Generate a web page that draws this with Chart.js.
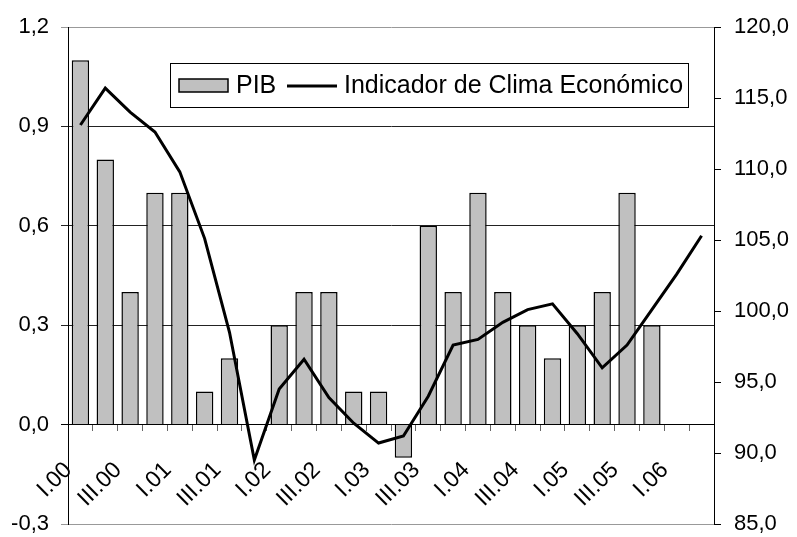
<!DOCTYPE html>
<html>
<head>
<meta charset="utf-8">
<script src="https://cdn.jsdelivr.net/npm/chart.js@4/dist/chart.umd.min.js"></script>
<style>
  body { margin: 0; background: #fff; }
  canvas { display: block; }
</style>
</head>
<body>
<canvas id="chart" width="797" height="537"></canvas>
<script>
const quarters = [
  'I.00', 'II.00', 'III.00', 'IV.00',
  'I.01', 'II.01', 'III.01', 'IV.01',
  'I.02', 'II.02', 'III.02', 'IV.02',
  'I.03', 'II.03', 'III.03', 'IV.03',
  'I.04', 'II.04', 'III.04', 'IV.04',
  'I.05', 'II.05', 'III.05', 'IV.05',
  'I.06', 'II.06'
];
const pib = [
  1.1, 0.8, 0.4, 0.7,
  0.7, 0.1, 0.2, null,
  0.3, 0.4, 0.4, 0.1,
  0.1, -0.1, 0.6, 0.4,
  0.7, 0.4, 0.3, 0.2,
  0.3, 0.4, 0.7, 0.3,
  null, null
];
const clima = [
  113.1, 115.7, 114.0, 112.6,
  109.8, 105.1, 98.5, 89.5,
  94.5, 96.6, 93.9, 92.1,
  90.7, 91.2, 94.0, 97.6,
  98.0, 99.2, 100.1, 100.5,
  98.4, 96.0, 97.6, 100.1,
  102.6, 105.3
];

const FONT = '"Liberation Sans", Arial, sans-serif';
const comma = v => v.toFixed(1).replace('.', ',');

// legend drawn inside the plot, like the original
const boxLegend = {
  id: 'boxLegend',
  afterDraw(chart) {
    const c = chart.ctx;
    const ds = chart.data.datasets;
    c.save();
    c.fillStyle = '#fff';
    c.fillRect(170, 63, 518, 44);
    c.strokeStyle = '#000';
    c.lineWidth = 1;
    c.strokeRect(170.5, 63.5, 518, 44);

    c.fillStyle = '#c0c0c0';
    c.fillRect(179, 79, 49, 13);
    c.lineWidth = 1.5;
    c.strokeRect(179, 79, 49, 13);

    c.font = '25px ' + FONT;
    c.textBaseline = 'middle';
    c.fillStyle = '#000';
    c.fillText(ds[1].label, 236, 86);

    c.beginPath();
    c.moveTo(287, 86);
    c.lineTo(337, 86);
    c.lineWidth = 3;
    c.stroke();
    c.fillText(ds[0].label, 344, 86);
    c.restore();
  }
};

// fixed axis widths, no extra label padding above/below the plot
const fixY = w => s => { s.width = w; s.paddingTop = 0; s.paddingBottom = 0; };

new Chart(document.getElementById('chart'), {
  data: {
    labels: quarters,
    datasets: [
      {
        type: 'line',
        label: 'Indicador de Clima Económico',
        data: clima,
        yAxisID: 'y2',
        borderColor: '#000',
        borderWidth: 3,
        pointRadius: 0,
        tension: 0,
        order: 0
      },
      {
        type: 'bar',
        label: 'PIB',
        data: pib,
        yAxisID: 'y',
        backgroundColor: '#c0c0c0',
        borderColor: '#000',
        borderWidth: 1.5,
        barPercentage: 0.7,
        categoryPercentage: 1,
        order: 1
      }
    ]
  },
  options: {
    responsive: false,
    animation: false,
    events: [],
    layout: { padding: { top: 27, bottom: 13, left: 0, right: 0 } },
    plugins: {
      legend: { display: false },
      tooltip: { enabled: false }
    },
    scales: {
      x: {
        position: { y: 0 },
        offset: true,
        afterFit: s => { s.height = 0; s.paddingLeft = 0; s.paddingRight = 0; },
        grid: { offset: true, drawOnChartArea: false, tickLength: 6, color: '#666' },
        border: { color: '#000', width: 1 },
        ticks: {
          autoSkip: false,
          minRotation: 45,
          maxRotation: 45,
          padding: 26,
          labelOffset: -12,
          color: '#000',
          font: { family: FONT, size: 23 },
          callback: (v, i) => (i % 2 === 0 ? quarters[i] : '')
        }
      },
      y: {
        position: 'left',
        min: -0.3,
        max: 1.2,
        afterFit: fixY(68),
        border: { color: '#000', width: 1 },
        grid: {
          tickLength: 7,
          color: ctx => {
            const v = ctx.tick ? ctx.tick.value : 0;
            if (Math.abs(v) < 1e-6) return '#000';
            if (Math.abs(v - 1.2) < 1e-6 || Math.abs(v + 0.3) < 1e-6) return '#999';
            return '#222';
          }
        },
        ticks: {
          stepSize: 0.3,
          padding: 12,
          color: '#000',
          font: { family: FONT, size: 22 },
          callback: v => comma(v)
        }
      },
      y2: {
        position: 'right',
        min: 85,
        max: 120,
        afterFit: fixY(83),
        border: { color: '#000', width: 1 },
        grid: { drawOnChartArea: false, tickLength: 7, color: '#000' },
        ticks: {
          stepSize: 5,
          padding: 13,
          color: '#000',
          font: { family: FONT, size: 22 },
          callback: v => comma(v)
        }
      }
    }
  },
  plugins: [boxLegend]
});
</script>
</body>
</html>
